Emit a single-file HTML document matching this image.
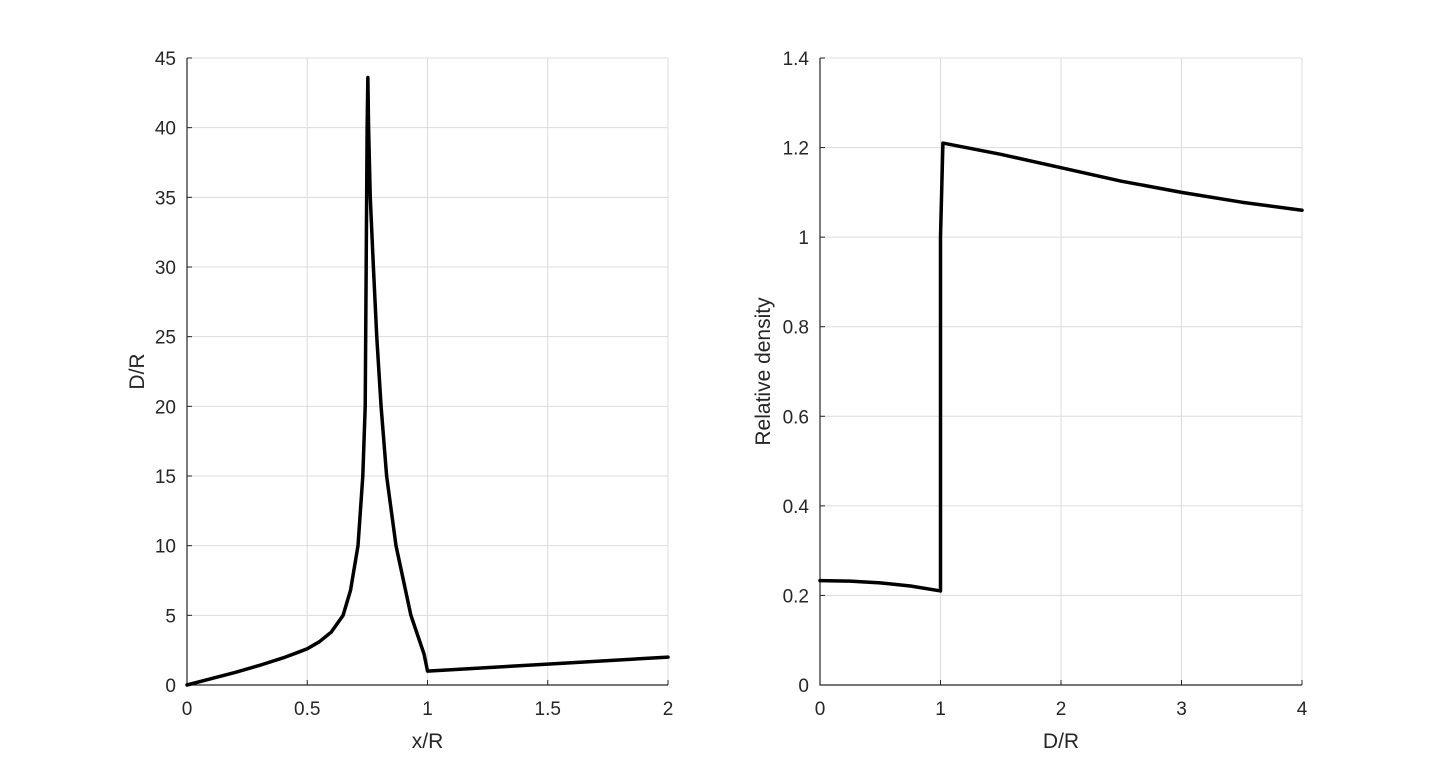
<!DOCTYPE html>
<html><head><meta charset="utf-8"><style>
html,body{margin:0;padding:0;background:#fff;}
svg{display:block;font-family:"Liberation Sans",sans-serif;}
</style></head><body>
<svg id="fig" width="1440" height="770"></svg>
<script>
// Left chart data
const leftX = [0,0.1,0.2,0.3,0.4,0.47,0.5,0.55,0.6,0.649,0.68,0.711,0.731,0.741,0.745,0.749,0.752,0.755,0.762,0.775,0.789,0.807,0.83,0.869,0.931,0.986,1.0,1.5,2.0];
const leftY = [0,0.45,0.9,1.4,1.95,2.4,2.6,3.1,3.8,5.0,6.8,10,15,20,30,40,43.6,40,35,30,25,20,15,10,5,2.2,1.0,1.5,2.0];
const leftXTicks = [0,0.5,1,1.5,2];
const leftXTickLabels = ["0","0.5","1","1.5","2"];
const leftYTicks = [0,5,10,15,20,25,30,35,40,45];
const leftYTickLabels = ["0","5","10","15","20","25","30","35","40","45"];
// Right chart data
const rightX = [0,0.25,0.5,0.75,1.0,1.0,1.02,1.5,2,2.5,3,3.5,4];
const rightY = [0.233,0.232,0.228,0.221,0.21,1.0,1.21,1.185,1.155,1.125,1.10,1.078,1.06];
const rightXTicks = [0,1,2,3,4];
const rightXTickLabels = ["0","1","2","3","4"];
const rightYTicks = [0,0.2,0.4,0.6,0.8,1,1.2,1.4];
const rightYTickLabels = ["0","0.2","0.4","0.6","0.8","1","1.2","1.4"];

const NS="http://www.w3.org/2000/svg";
const svg=document.getElementById('fig');
function mk(tag,attrs,parent){const e=document.createElementNS(NS,tag);for(const k in attrs)e.setAttribute(k,attrs[k]);(parent||svg).appendChild(e);return e;}

function chart(o){
  const g=mk('g',{});
  
  
  const sx=v=>o.x0+(v-o.xmin)/(o.xmax-o.xmin)*(o.x1-o.x0);
  const sy=v=>o.y0-(v-o.ymin)/(o.ymax-o.ymin)*(o.y0-o.y1);
  o.xt.forEach((t,i)=>{
    const l=mk('line',{x1:sx(t),x2:sx(t),y1:o.y0,y2:o.y1,stroke:'#dcdcdc','stroke-width':1},g);
    
    
    const tk=mk('line',{x1:sx(t),x2:sx(t),y1:o.y0,y2:o.y0-5,stroke:'#262626','stroke-width':1},g);
    
    
    const tx=mk('text',{x:sx(t),y:o.y0+30,'text-anchor':'middle','font-size':19,fill:'#262626'},g);
    tx.textContent=o.xl[i];
    
    
  });
  o.yt.forEach((t,i)=>{
    const l=mk('line',{x1:o.x0,x2:o.x1,y1:sy(t),y2:sy(t),stroke:'#dcdcdc','stroke-width':1},g);
    
    
    const tk=mk('line',{x1:o.x0,x2:o.x0+5,y1:sy(t),y2:sy(t),stroke:'#262626','stroke-width':1},g);
    
    
    const tx=mk('text',{x:o.x0-11,y:sy(t)+7,'text-anchor':'end','font-size':19,fill:'#262626'},g);
    tx.textContent=o.yl[i];
    
    
  });
  const ax=mk('path',{d:`M${o.x0},${o.y1}L${o.x0},${o.y0}L${o.x1},${o.y0}`,fill:'none',stroke:'#262626','stroke-width':1.2},g);
  
  
  const d=o.xs.map((v,i)=>(i?'L':'M')+sx(v).toFixed(2)+','+sy(o.ys[i]).toFixed(2)).join('');
  const p=mk('path',{d:d,fill:'none',stroke:'#000','stroke-width':3.5,'stroke-linejoin':'round','stroke-linecap':'round'},g);
  
  
  const xt=mk('text',{x:(o.x0+o.x1)/2,y:o.y0+63,'text-anchor':'middle','font-size':21,fill:'#262626'},g);
  xt.textContent=o.xlabel;
  
  
  const yx=o.ylx, yy=(o.y0+o.y1)/2;
  const yt=mk('text',{x:yx,y:yy,'text-anchor':'middle','font-size':21,fill:'#262626',transform:`rotate(-90 ${yx} ${yy})`},g);
  yt.textContent=o.ylabel;
  
  
}
chart({name:'left-chart',x0:187,x1:668,y0:685,y1:58,xmin:0,xmax:2,ymin:0,ymax:45,xt:leftXTicks,xl:leftXTickLabels,yt:leftYTicks,yl:leftYTickLabels,xs:leftX,ys:leftY,xlabel:'x/R',ylabel:'D/R',ylx:144});
chart({name:'right-chart',x0:820,x1:1302,y0:685,y1:58,xmin:0,xmax:4,ymin:0,ymax:1.4,xt:rightXTicks,xl:rightXTickLabels,yt:rightYTicks,yl:rightYTickLabels,xs:rightX,ys:rightY,xlabel:'D/R',ylabel:'Relative density',ylx:770});
</script>
</body></html>
